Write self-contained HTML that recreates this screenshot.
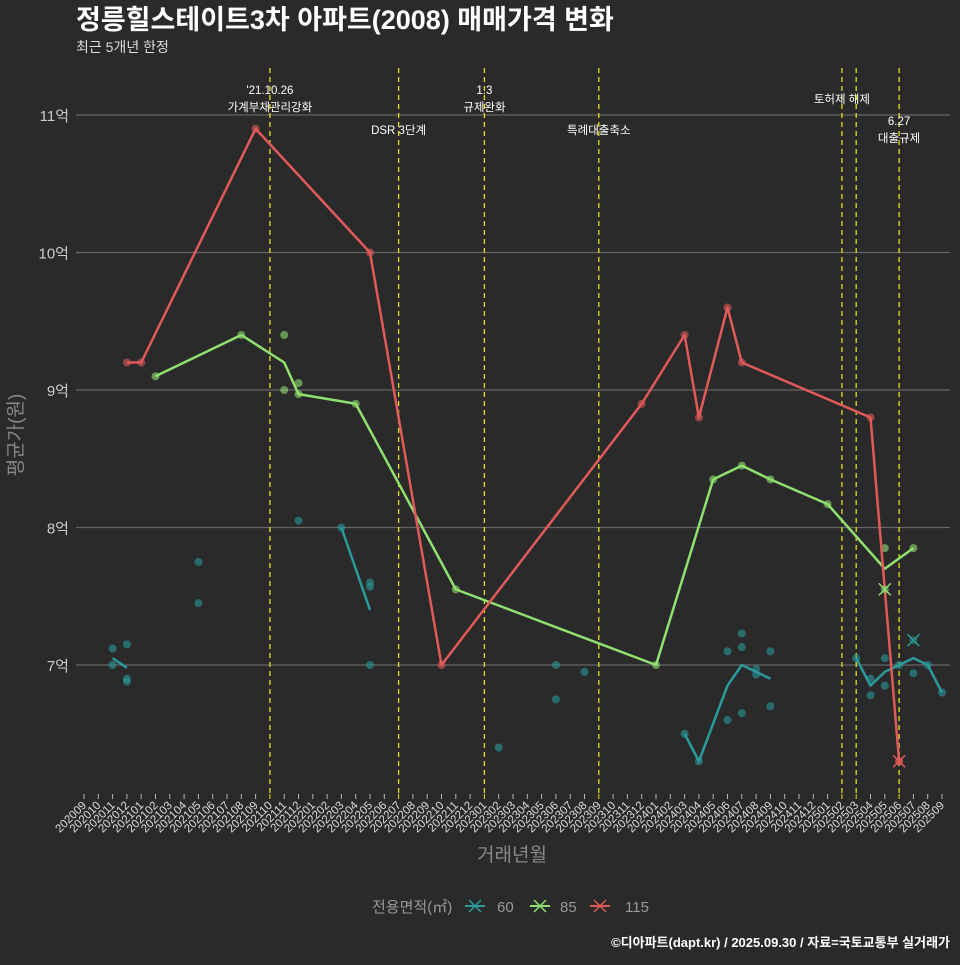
<!DOCTYPE html>
<html><head><meta charset="utf-8"><style>
html,body{margin:0;padding:0;background:#2a2a2b;}
body{width:960px;height:960px;overflow:hidden;font-family:"Liberation Sans","Noto Sans CJK KR",sans-serif;}
</style></head><body>
<svg id="chartsvg" width="960" height="960" xmlns="http://www.w3.org/2000/svg" font-family="Liberation Sans, Noto Sans CJK KR, sans-serif">
<rect width="960" height="960" fill="#2a2a2b"/>
<text x="76" y="29" fill="#ffffff" font-size="27" font-weight="bold">정릉힐스테이트3차 아파트(2008) 매매가격 변화</text>
<text x="76" y="52" fill="#dddddd" font-size="14">최근 5개년 한정</text>
<g id="gGrid"></g><g id="gVlines"></g><g id="gMarks"></g><g id="gAxes"></g>
<text transform="translate(22,435) rotate(-90)" text-anchor="middle" fill="#888" font-size="19">평균가(원)</text>
<text x="512" y="861" text-anchor="middle" fill="#888" font-size="19">거래년월</text>
<g font-size="15" fill="#999">
<text x="372" y="912">전용면적(㎡)</text>
<g id="gLegend"></g>
</g>
<text x="950" y="947" text-anchor="end" fill="#ffffff" font-size="13" font-weight="bold">©디아파트(dapt.kr) / 2025.09.30 / 자료=국토교통부 실거래가</text>
</svg>
<script>
var yTicks=[7,8,9,10,11];
var yTickLabels=['7억','8억','9억','10억','11억'];
var startYear=2020,startMonth=9,monthCount=61;
var policyMonths=['202110','202207','202301','202309','202502','202503','202506'];
var policyLabels=[["'21.10.26","가계부채관리강화"],["DSR 3단계"],["1.3","규제완화"],["특례대출축소"],["토허제 해제"],[],["6.27","대출규제"]];
var policyLabelY=[90,130,90,130,99,99,121];
var line60m=[['202011','202012'],['202203','202205'],['202403','202404','202406','202407','202408','202409'],['202503','202504','202505','202506','202507','202508','202509']];
var line60v=[[7.05,6.98],[8.0,7.4],[6.5,6.3,6.85,7.0,6.95,6.9],[7.05,6.85,6.95,7.0,7.05,7.0,6.8]];
var line85m=['202102','202108','202111','202112','202204','202211','202401','202405','202407','202409','202501','202505','202507'];
var line85v=[9.1,9.4,9.2,8.97,8.9,7.55,7.0,8.35,8.45,8.35,8.17,7.7,7.85];
var line115m=['202012','202101','202109','202205','202210','202312','202403','202404','202406','202407','202504','202506'];
var line115v=[9.2,9.2,10.9,10.0,7.0,8.9,9.4,8.8,9.6,9.2,8.8,6.3];
var pts60m=['202011','202011','202012','202012','202012','202105','202105','202112','202203','202205','202205','202205','202302','202306','202306','202308','202403','202404','202406','202406','202407','202407','202407','202408','202408','202409','202409','202503','202504','202504','202505','202505','202506','202507','202508','202509'];
var pts60v=[7.12,7.0,7.15,6.9,6.88,7.75,7.45,8.05,8.0,7.6,7.57,7.0,6.4,7.0,6.75,6.95,6.5,6.3,7.1,6.6,7.23,7.13,6.65,6.97,6.93,7.1,6.7,7.05,6.9,6.78,7.05,6.85,7.0,6.94,7.0,6.8];
var pts85m=['202102','202108','202111','202111','202112','202112','202204','202211','202401','202405','202407','202409','202501','202505','202507'];
var pts85v=[9.1,9.4,9.4,9.0,9.05,8.97,8.9,7.55,7.0,8.35,8.45,8.35,8.17,7.85,7.85];
var pts115m=line115m;
var pts115v=line115v;
var cancel60m=['202507'],cancel60v=[7.18];
var cancel85m=['202505'],cancel85v=[7.55];
var cancel115m=['202506'],cancel115v=[6.3];

var SVGNS='http://www.w3.org/2000/svg';
function mk(tag,attrs,parent){var e=document.createElementNS(SVGNS,tag);for(var k in attrs){e.setAttribute(k,String(attrs[k]));}parent.appendChild(e);return e;}
function mIdx(s){return (parseInt(s.slice(0,4),10)-startYear)*12+(parseInt(s.slice(4),10)-startMonth);}
function xPos(m){return 84+mIdx(m)*14.3;}
function xIdx(i){return 84+i*14.3;}
function yPos(v){return 665-(v-7)*137.5;}
var C60='#2a9a9a',C85='#90e070',C115='#e05a5a';
var gGrid=document.getElementById('gGrid'),gAxes=document.getElementById('gAxes'),gV=document.getElementById('gVlines'),gM=document.getElementById('gMarks'),gL=document.getElementById('gLegend');
try{
yTicks.forEach(function(t,i){
 var l=mk('line',{x1:76,x2:950,y1:yPos(t),y2:yPos(t),stroke:'#666','stroke-width':1.2},gGrid);
 
 
 var tx=mk('text',{x:69,y:yPos(t)+6,'text-anchor':'end',fill:'#ccc','font-size':15},gAxes);
 tx.textContent=yTickLabels[i];
 
 
});
for(var i=0;i<monthCount;i++){
 var yr=startYear+Math.floor((startMonth-1+i)/12),mo=(startMonth-1+i)%12+1;
 var lab=''+yr+(mo<10?'0':'')+mo;
 var isP=policyMonths.indexOf(lab)>=0;
 var tk=mk('line',{x1:xIdx(i),x2:xIdx(i),y1:794,y2:799,stroke:isP?'#e0e020':'#bbb','stroke-width':1},gAxes);
 
 
 var tt=mk('text',{transform:'translate('+(xIdx(i)+3)+',806) rotate(-45)','text-anchor':'end',fill:'#ddd','font-size':11.5},gAxes);
 tt.textContent=lab;
 
 
}
policyMonths.forEach(function(m,i){
 var l=mk('line',{x1:xPos(m),x2:xPos(m),y1:68,y2:794,stroke:'#e0e020','stroke-width':1.3,'stroke-dasharray':'5,4'},gV);
 
 
 policyLabels[i].forEach(function(s,j){
  var t=mk('text',{x:xPos(m),y:policyLabelY[i]+4+j*17,'text-anchor':'middle',fill:'#fff','font-size':11.5},gV);
  t.textContent=s;
  
  
 });
});
}catch(e){}
function drawDots(ms,vs,c,nm){ms.forEach(function(m,i){var d=mk('circle',{cx:xPos(m),cy:yPos(vs[i]),r:4,fill:c,'fill-opacity':0.6},gM);});}
function drawLine(ms,vs,c,nm){var pts=ms.map(function(m,i){return xPos(m)+','+yPos(vs[i]);}).join(' ');var p=mk('polyline',{points:pts,fill:'none',stroke:c,'stroke-width':2.5,'stroke-linejoin':'round'},gM);}
function drawCross(ms,vs,c,nm){ms.forEach(function(m,i){var cx=xPos(m),cy=yPos(vs[i]);var g=mk('g',{},gM);mk('circle',{cx:cx,cy:cy,r:4,fill:c,'fill-opacity':0.5},g);mk('path',{d:'M'+(cx-6)+','+(cy-6)+'L'+(cx+6)+','+(cy+6)+'M'+(cx-6)+','+(cy+6)+'L'+(cx+6)+','+(cy-6),stroke:c,'stroke-width':1.5},g);});}
try{
drawDots(pts60m,pts60v,C60,'point-60');
line60m.forEach(function(ms,i){drawLine(ms,line60v[i],C60,'line-60');});
drawDots(pts85m,pts85v,C85,'point-85');
drawLine(line85m,line85v,C85,'line-85');
drawDots(pts115m,pts115v,C115,'point-115');
drawLine(line115m,line115v,C115,'line-115');
drawCross(cancel60m,cancel60v,C60,'cancel-60');
drawCross(cancel85m,cancel85v,C85,'cancel-85');
drawCross(cancel115m,cancel115v,C115,'cancel-115');
}catch(e){}
try{
[['60',C60,475,497],['85',C85,540,560],['115',C115,600,625]].forEach(function(a){
 var lab=a[0],c=a[1],lx=a[2],tx=a[3];
 var g=mk('g',{},gL);
 
 
 mk('line',{x1:lx-10,x2:lx+10,y1:906,y2:906,stroke:c,'stroke-width':2},g);
 mk('path',{d:'M'+(lx-6)+',900L'+(lx+6)+',912M'+(lx-6)+',912L'+(lx+6)+',900',stroke:c,'stroke-width':1.5},g);
 var t=mk('text',{x:tx,y:912,fill:'#999','font-size':15},g);t.textContent=lab;
});
}catch(e){}
</script>
</body></html>
